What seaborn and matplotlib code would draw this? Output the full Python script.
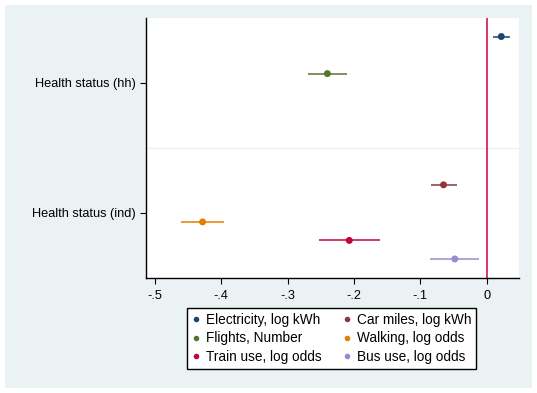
import numpy as np
import pandas as pd
import matplotlib
matplotlib.use('Agg')
import matplotlib.pyplot as plt
import seaborn as sns
from matplotlib.patches import Rectangle

# coefficient estimates with 95% confidence intervals
categories = ['Health status (hh)', 'Health status (ind)']
series = ['Electricity, log kWh', 'Car miles, log kWh', 'Flights, Number',
          'Walking, log odds', 'Train use, log odds', 'Bus use, log odds']
series_cat = ['Health status (hh)', 'Health status (ind)', 'Health status (hh)',
              'Health status (ind)', 'Health status (ind)', 'Health status (ind)']
coef = [0.022, -0.065, -0.240, -0.428, -0.207, -0.048]
ci_low = [0.010, -0.084, -0.269, -0.461, -0.252, -0.086]
ci_high = [0.035, -0.045, -0.210, -0.395, -0.160, -0.011]
colors = ['#1a476f', '#90353b', '#55752f', '#e37e00', '#c10534', '#938dd2']
xticks = [-0.5, -0.4, -0.3, -0.2, -0.1, 0]
xtick_labels = ['-.5', '-.4', '-.3', '-.2', '-.1', '0']

df = pd.DataFrame({'series': series, 'category': series_cat, 'coef': coef,
                   'lo': ci_low, 'hi': ci_high})
# coefplot style offsets: each series gets its own slot within a category
n = len(series)
df['offset'] = (np.arange(n) - (n - 1) / 2) / (n + 1)
df['ypos'] = df['category'].map({c: i + 1 for i, c in enumerate(categories)}) + df['offset']

sns.set_style('white')
plt.rcParams['font.family'] = ['Liberation Sans', 'DejaVu Sans']
plt.rcParams['text.color'] = 'black'
plt.rcParams['xtick.color'] = 'black'
plt.rcParams['ytick.color'] = 'black'

fig = plt.figure(figsize=(5.37, 3.93), dpi=100, facecolor='white')
fig.patches.append(Rectangle((5 / 537, 1 - 388 / 393), 527 / 537, 383 / 393,
                             transform=fig.transFigure, facecolor='#eaf2f3',
                             edgecolor='none', zorder=-10))
ax = fig.add_axes([145.5 / 537, 1 - 277.5 / 393, 373.5 / 537, 259.5 / 393])
ax.set_zorder(1)
ax.set_facecolor('white')

pal = dict(zip(series, colors))
ax.hlines(df['ypos'], df['lo'], df['hi'], colors=[pal[s] for s in df['series']],
          linewidth=1.1, zorder=3)
sns.scatterplot(data=df, x='coef', y='ypos', hue='series', palette=pal,
                s=25, marker='o', edgecolor='none', ax=ax, zorder=4, legend=False)

ax.axvline(0, color='#d0003c', linewidth=1.1, zorder=2)
ax.axhline(1.5, color='#eaf2f3', linewidth=1.0, zorder=1)

ax.set_xlim(-0.514, 0.0487)
ax.set_ylim(2.5, 0.5)
ax.set_xticks(xticks)
ax.set_xticklabels(xtick_labels)
ax.set_yticks([1, 2])
ax.set_yticklabels(categories)
ax.set_xlabel('')
ax.set_ylabel('')
ax.tick_params(axis='both', which='both', direction='out', length=4, width=0.8,
               color='black', labelcolor='black', labelsize=9.2, pad=3,
               left=True, bottom=True)
ax.tick_params(axis='x', pad=5)

for side in ['top', 'right']:
    ax.spines[side].set_visible(False)
for side in ['left', 'bottom']:
    ax.spines[side].set_color('black')
    ax.spines[side].set_linewidth(1.0)

# legend reads row by row, matplotlib fills column by column
order = [0, 2, 4, 1, 3, 5]
handles = [plt.Line2D([], [], marker='o', linestyle='none', color=colors[i],
                      markersize=4, markeredgewidth=0) for i in order]
labels = [series[i] for i in order]
leg = fig.legend(handles, labels, ncol=2, loc='upper center',
                 bbox_to_anchor=(331.7 / 537, 1 - 308.3 / 393),
                 frameon=True, fancybox=False, fontsize=9.8, handletextpad=0.5,
                 columnspacing=1.6, handlelength=0.5, labelspacing=0.32,
                 borderpad=0.35, borderaxespad=0)
leg.get_frame().set_edgecolor('black')
leg.get_frame().set_linewidth(1.0)
leg.get_frame().set_facecolor('white')
leg.get_frame().set_alpha(1)

fig.savefig('out.png', dpi=100, facecolor='white')
